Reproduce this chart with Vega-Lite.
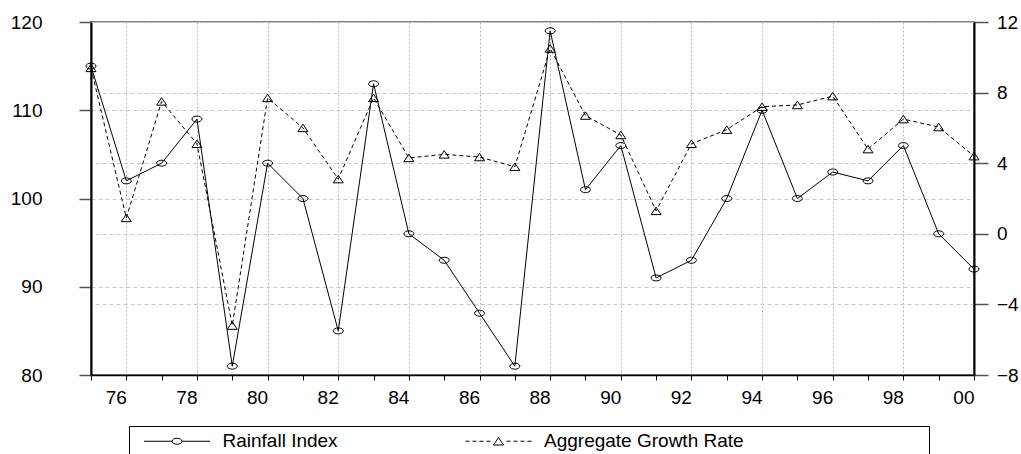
{
  "$schema": "https://vega.github.io/schema/vega-lite/v6.json",
  "width": 883,
  "height": 353,
  "autosize": "none",
  "padding": {"left": 91, "top": 22, "right": 47, "bottom": 79},
  "background": "white",
  "config": {
    "view": {"stroke": "#808080", "strokeWidth": 2},
    "font": "Liberation Sans",
    "axis": {
      "labelFont": "Liberation Sans",
      "labelFontSize": 19,
      "labelColor": "black",
      "labelOverlap": false,
      "labelFlush": false,
      "labelBound": false,
      "title": null
    }
  },
  "data": {
    "values": [
      {"year": 1975, "series": "Rainfall Index", "value": 115},
      {"year": 1976, "series": "Rainfall Index", "value": 102},
      {"year": 1977, "series": "Rainfall Index", "value": 104},
      {"year": 1978, "series": "Rainfall Index", "value": 109},
      {"year": 1979, "series": "Rainfall Index", "value": 81},
      {"year": 1980, "series": "Rainfall Index", "value": 104},
      {"year": 1981, "series": "Rainfall Index", "value": 100},
      {"year": 1982, "series": "Rainfall Index", "value": 85},
      {"year": 1983, "series": "Rainfall Index", "value": 113},
      {"year": 1984, "series": "Rainfall Index", "value": 96},
      {"year": 1985, "series": "Rainfall Index", "value": 93},
      {"year": 1986, "series": "Rainfall Index", "value": 87},
      {"year": 1987, "series": "Rainfall Index", "value": 81},
      {"year": 1988, "series": "Rainfall Index", "value": 119},
      {"year": 1989, "series": "Rainfall Index", "value": 101},
      {"year": 1990, "series": "Rainfall Index", "value": 106},
      {"year": 1991, "series": "Rainfall Index", "value": 91},
      {"year": 1992, "series": "Rainfall Index", "value": 93},
      {"year": 1993, "series": "Rainfall Index", "value": 100},
      {"year": 1994, "series": "Rainfall Index", "value": 110},
      {"year": 1995, "series": "Rainfall Index", "value": 100},
      {"year": 1996, "series": "Rainfall Index", "value": 103},
      {"year": 1997, "series": "Rainfall Index", "value": 102},
      {"year": 1998, "series": "Rainfall Index", "value": 106},
      {"year": 1999, "series": "Rainfall Index", "value": 96},
      {"year": 2000, "series": "Rainfall Index", "value": 92},
      {"year": 1975, "series": "Aggregate Growth Rate", "value": 9.4},
      {"year": 1976, "series": "Aggregate Growth Rate", "value": 0.9},
      {"year": 1977, "series": "Aggregate Growth Rate", "value": 7.5},
      {"year": 1978, "series": "Aggregate Growth Rate", "value": 5.1},
      {"year": 1979, "series": "Aggregate Growth Rate", "value": -5.2},
      {"year": 1980, "series": "Aggregate Growth Rate", "value": 7.7},
      {"year": 1981, "series": "Aggregate Growth Rate", "value": 6.0},
      {"year": 1982, "series": "Aggregate Growth Rate", "value": 3.1},
      {"year": 1983, "series": "Aggregate Growth Rate", "value": 7.7},
      {"year": 1984, "series": "Aggregate Growth Rate", "value": 4.3},
      {"year": 1985, "series": "Aggregate Growth Rate", "value": 4.5},
      {"year": 1986, "series": "Aggregate Growth Rate", "value": 4.35},
      {"year": 1987, "series": "Aggregate Growth Rate", "value": 3.8},
      {"year": 1988, "series": "Aggregate Growth Rate", "value": 10.5},
      {"year": 1989, "series": "Aggregate Growth Rate", "value": 6.7},
      {"year": 1990, "series": "Aggregate Growth Rate", "value": 5.6},
      {"year": 1991, "series": "Aggregate Growth Rate", "value": 1.3},
      {"year": 1992, "series": "Aggregate Growth Rate", "value": 5.1},
      {"year": 1993, "series": "Aggregate Growth Rate", "value": 5.9},
      {"year": 1994, "series": "Aggregate Growth Rate", "value": 7.2},
      {"year": 1995, "series": "Aggregate Growth Rate", "value": 7.3},
      {"year": 1996, "series": "Aggregate Growth Rate", "value": 7.8},
      {"year": 1997, "series": "Aggregate Growth Rate", "value": 4.8},
      {"year": 1998, "series": "Aggregate Growth Rate", "value": 6.5},
      {"year": 1999, "series": "Aggregate Growth Rate", "value": 6.05},
      {"year": 2000, "series": "Aggregate Growth Rate", "value": 4.4}
    ]
  },
  "encoding": {
    "x": {
      "field": "year",
      "type": "quantitative",
      "scale": {"domain": [1975, 2000], "nice": false, "zero": false},
      "axis": {
        "values": [1975, 1976, 1977, 1978, 1979, 1980, 1981, 1982, 1983, 1984, 1985, 1986, 1987, 1988, 1989, 1990, 1991, 1992, 1993, 1994, 1995, 1996, 1997, 1998, 1999, 2000],
        "labelExpr": "datum.value % 2 == 0 ? slice(toString(datum.value), 2) : ''",
        "labelAlign": "right",
        "labelDx": 1.5,
        "labelPadding": 8,
        "tickSize": 5,
        "tickColor": "black",
        "tickWidth": 1,
        "domainColor": "black",
        "domainWidth": 1.5,
        "grid": true,
        "gridColor": {"condition": {"test": "datum.value % 2 == 0 && datum.value < 2000", "value": "#b4b4b4"}, "value": "transparent"},
        "gridDash": [2, 2],
        "gridWidth": 1,
        "gridOpacity": 1
      }
    },
    "color": {
      "field": "series",
      "type": "nominal",
      "scale": {"domain": ["Rainfall Index", "Aggregate Growth Rate"], "range": ["black", "black"]},
      "legend": {
        "orient": "none",
        "legendX": 38,
        "legendY": 404,
        "direction": "horizontal",
        "title": null,
        "strokeColor": "black",
        "fillColor": "white",
        "padding": 5.5,
        "symbolSize": 100,
        "symbolOffset": 33,
        "labelOffset": 36,
        "columnPadding": 117.5,
        "labelFont": "Liberation Sans",
        "labelFontSize": 19,
        "labelColor": "black",
        "labelLimit": 800,
        "symbolFillColor": "transparent",
        "symbolStrokeColor": "black",
        "symbolStrokeWidth": 1,
        "labelExpr": "datum.label == 'Aggregate Growth Rate' ? datum.label + '\u00a0\u00a0\u00a0\u00a0\u00a0\u00a0\u00a0\u00a0\u00a0\u00a0\u00a0\u00a0\u00a0\u00a0\u00a0\u00a0\u00a0\u00a0\u00a0\u00a0\u00a0\u00a0\u00a0\u00a0\u00a0\u00a0\u00a0\u00a0\u00a0\u00a0\u00a0\u00a0\u00a0\u00a0\u200b' : datum.label",
        "encode": {
          "symbols": {
            "update": {
              "shape": {"signal": "datum.value == 'Rainfall Index' ? 'M-6.6,0H-1M1,0H6.6M1,0A1,0.6 0 1 1 -1,0A1,0.6 0 1 1 1,0' : 'M-6.6,0H-5.8M-5.2,0H-4.4M-3.8,0H-3M-2.4,0H-1.6M0,-0.75L1,0.75L-1,0.75ZM1.6,0H2.4M3,0H3.8M4.4,0H5.2M5.8,0H6.6'"},
              "fill": {"value": "transparent"},
              "stroke": {"value": "black"}
            }
          }
        }
      }
    }
  },
  "layer": [
    {
      "transform": [{"filter": "datum.series == 'Rainfall Index'"}],
      "encoding": {
        "y": {
          "field": "value",
          "type": "quantitative",
          "scale": {"domain": [80, 120], "nice": false, "zero": false},
          "axis": {
            "orient": "left",
            "values": [80, 90, 100, 110, 120],
            "tickSize": 12,
            "tickColor": "#555555",
            "tickWidth": 1.5,
            "labelPadding": 37,
            "domainColor": "black",
            "domainWidth": 2,
            "grid": true,
            "gridColor": "#c8c8c8",
            "gridDash": [4, 3],
            "gridWidth": 1
          }
        }
      },
      "layer": [
        {"mark": {"type": "line", "strokeWidth": 1}},
        {
          "mark": {
            "type": "point",
            "shape": "M1,0A1,0.6 0 1 1 -1,0A1,0.6 0 1 1 1,0",
            "size": 100,
            "filled": false,
            "strokeWidth": 1,
            "opacity": 1
          }
        }
      ]
    },
    {
      "transform": [{"filter": "datum.series == 'Aggregate Growth Rate'"}],
      "encoding": {
        "y": {
          "field": "value",
          "type": "quantitative",
          "scale": {"domain": [-8, 12], "nice": false, "zero": false},
          "axis": {
            "orient": "right",
            "values": [-8, -4, 0, 4, 8, 12],
            "tickSize": 14,
            "tickColor": "#555555",
            "tickWidth": 1.5,
            "labelPadding": 8.5,
            "labelAlign": "left",
            "domainColor": "black",
            "domainWidth": 2,
            "grid": true,
            "gridColor": "#c8c8c8",
            "gridDash": [4, 3],
            "gridWidth": 1
          }
        }
      },
      "layer": [
        {"mark": {"type": "line", "strokeWidth": 1, "strokeDash": [4, 3]}},
        {
          "mark": {
            "type": "point",
            "shape": "M0,-0.75L1,0.75L-1,0.75Z",
            "size": 100,
            "filled": false,
            "strokeWidth": 1,
            "opacity": 1
          }
        }
      ]
    }
  ],
  "resolve": {"scale": {"y": "independent"}}
}
